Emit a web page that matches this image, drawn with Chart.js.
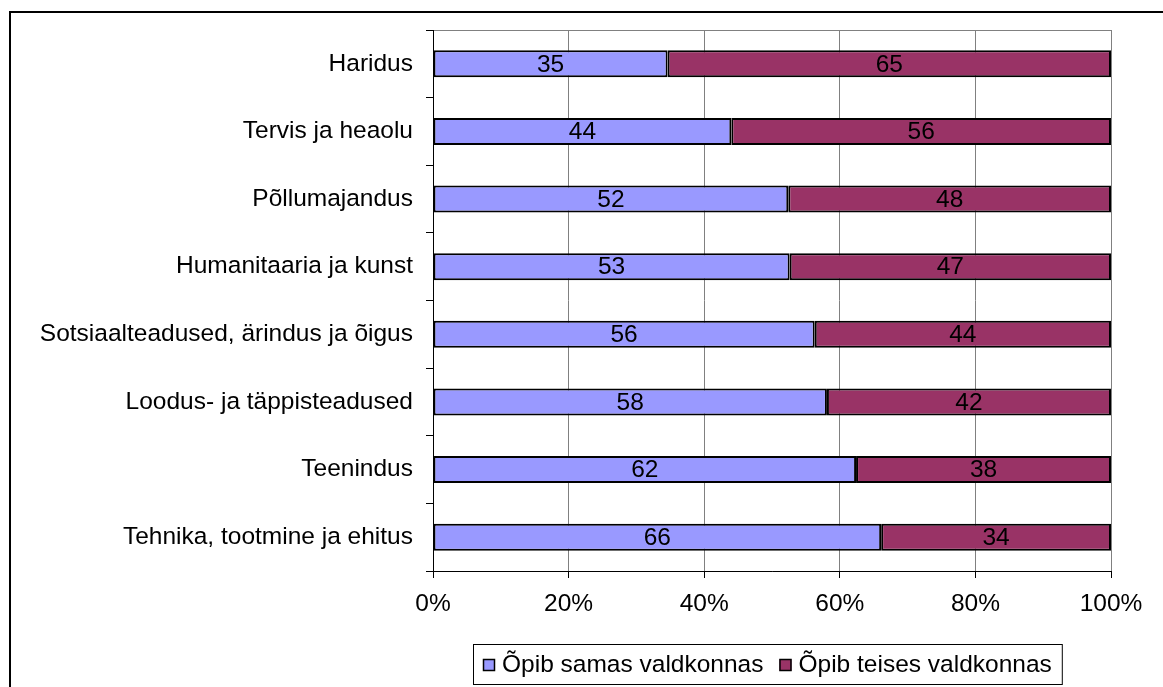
<!DOCTYPE html>
<html>
<head>
<meta charset="utf-8">
<script src="https://cdn.jsdelivr.net/npm/chart.js@4.4.0/dist/chart.umd.min.js"></script>
<style>
    body { margin: 0; background: #fff; }
    canvas { display: block; }
</style>
</head>
<body>
<canvas id="chart" width="1163" height="687"></canvas>
<script>
const categories = [
    'Haridus',
    'Tervis ja heaolu',
    'Põllumajandus',
    'Humanitaaria ja kunst',
    'Sotsiaalteadused, ärindus ja õigus',
    'Loodus- ja täppisteadused',
    'Teenindus',
    'Tehnika, tootmine ja ehitus'
];
const samas = [34.6, 44.0, 52.4, 52.6, 56.3, 58.1, 62.4, 66.1];
const teises = [65.4, 56.0, 47.6, 47.4, 43.7, 41.9, 37.6, 33.9];
const seriesNames = ['Õpib samas valdkonnas', 'Õpib teises valdkonnas'];
const xTicks = [0, 20, 40, 60, 80, 100];

const FONT = '"Liberation Sans", Arial, sans-serif';
const FONT_SIZE = 24.5;

// frame, plot background, bar labels and legend box
const decorations = {
    id: 'decorations',
    beforeDraw(chart) {
        const ctx = chart.ctx;
        const a = chart.chartArea;
        ctx.save();
        ctx.strokeStyle = '#000';
        ctx.lineWidth = 2;
        ctx.strokeRect(10, 12, 1200, 700);
        ctx.strokeStyle = '#808080';
        ctx.lineWidth = 1;
        ctx.strokeRect(a.left + 0.5, a.top + 0.5, a.right - a.left, a.bottom - a.top);
        ctx.restore();
    },
    afterDatasetsDraw(chart) {
        const ctx = chart.ctx;
        ctx.save();
        ctx.font = FONT_SIZE + 'px ' + FONT;
        ctx.fillStyle = '#000';
        ctx.textAlign = 'center';
        ctx.textBaseline = 'middle';
        chart.data.datasets.forEach((ds, i) => {
            chart.getDatasetMeta(i).data.forEach((bar, j) => {
                const x = (bar.x + bar.base) / 2;
                ctx.fillText(Math.round(ds.data[j]), x, bar.y + 1);
            });
        });
        ctx.restore();
    },
    afterDraw(chart) {
        const ctx = chart.ctx;
        ctx.save();
        ctx.font = FONT_SIZE + 'px ' + FONT;
        ctx.textBaseline = 'middle';
        const left = 473, top = 644, height = 40;
        const cy = top + height / 2 + 1;
        let x = left + 10;
        chart.data.datasets.forEach((ds, i) => {
            ctx.fillStyle = ds.backgroundColor;
            ctx.fillRect(x, cy - 6, 12, 12);
            ctx.strokeStyle = '#000';
            ctx.lineWidth = 1.5;
            ctx.strokeRect(x + 0.5, cy - 5.5, 11, 11);
            x += 19;
            ctx.fillStyle = '#000';
            ctx.fillText(ds.label, x, cy);
            x += ctx.measureText(ds.label).width + 16;
        });
        const right = x - 16 + 10;
        ctx.strokeStyle = '#000';
        ctx.lineWidth = 1;
        ctx.strokeRect(left + 0.5, top + 0.5, right - left, height);
        ctx.restore();
    }
};

new Chart(document.getElementById('chart'), {
    type: 'bar',
    data: {
        labels: categories,
        datasets: [
            {
                label: seriesNames[0],
                data: samas,
                backgroundColor: '#9999FF',
                borderColor: '#000',
                borderWidth: 2,
                borderSkipped: false,
                barPercentage: 0.4,
                categoryPercentage: 1
            },
            {
                label: seriesNames[1],
                data: teises,
                backgroundColor: '#993366',
                borderColor: '#000',
                borderWidth: 2,
                borderSkipped: false,
                barPercentage: 0.4,
                categoryPercentage: 1
            }
        ]
    },
    options: {
        indexAxis: 'y',
        responsive: false,
        animation: false,
        layout: { padding: { top: 30, right: 52, bottom: 56, left: 0 } },
        plugins: {
            legend: { display: false },
            tooltip: { enabled: false }
        },
        scales: {
            x: {
                stacked: true,
                min: 0,
                max: 100,
                afterBuildTicks: scale => { scale.ticks = xTicks.map(v => ({ value: v })); },
                afterFit: scale => { scale.height = 60; },
                ticks: {
                    callback: v => v + '%',
                    color: '#000',
                    font: { family: FONT, size: FONT_SIZE },
                    padding: 12,
                    maxRotation: 0
                },
                grid: {
                    color: '#808080',
                    tickColor: '#000',
                    tickLength: 7,
                    lineWidth: 1
                },
                border: { color: '#000', width: 1 }
            },
            y: {
                stacked: true,
                afterFit: scale => { scale.width = 433; },
                ticks: {
                    color: '#000',
                    font: { family: FONT, size: FONT_SIZE },
                    padding: 13
                },
                grid: {
                    offset: true,
                    drawOnChartArea: false,
                    tickColor: '#000',
                    tickLength: 7
                },
                border: { color: '#000', width: 1 }
            }
        }
    },
    plugins: [decorations]
});
</script>
</body>
</html>
